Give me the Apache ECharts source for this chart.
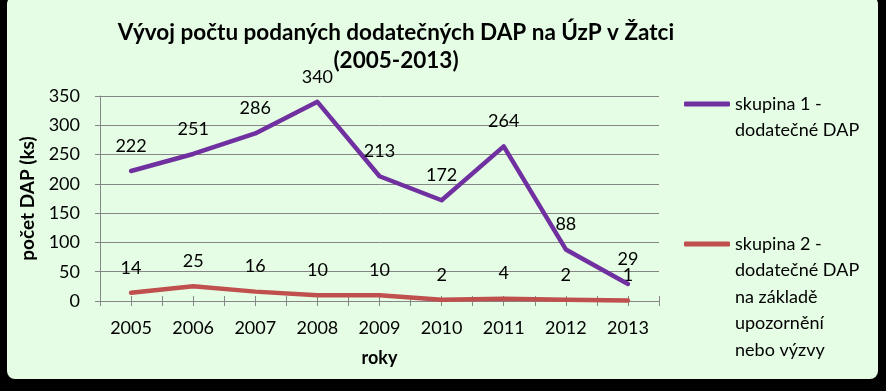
<!DOCTYPE html>
<html>
<head>
<meta charset="utf-8">
<script src="https://cdn.jsdelivr.net/npm/echarts@6/dist/echarts.min.js"></script>
<style>
  html, body { margin: 0; padding: 0; background: #000; }
  #panel { position: absolute; left: 7px; top: -4px; width: 871px; height: 383px; background: #E4FDE4; border-radius: 8px; }
  #chart { position: absolute; left: 0; top: 0; width: 886px; height: 391px; }
</style>
</head>
<body>
<div id="panel"></div>
<div id="chart"></div>
<script>
const titleText = 'Vývoj počtu podaných dodatečných DAP na ÚzP v Žatci\n(2005-2013)';
const years = ['2005', '2006', '2007', '2008', '2009', '2010', '2011', '2012', '2013'];
const group1Name = 'skupina 1 -\ndodatečné DAP';
const group2Name = 'skupina 2 -\ndodatečné DAP\nna základě\nupozornění\nnebo výzvy';
const group1Values = [222, 251, 286, 340, 213, 172, 264, 88, 29];
const group2Values = [14, 25, 16, 10, 10, 2, 4, 2, 1];
const yAxisName = 'počet DAP (ks)';
const xAxisName = 'roky';

// helper slots for tick marks at every half category
const halfSlots = [];
years.forEach(() => { halfSlots.push(''); halfSlots.push(''); });

const FONT = 'Lato';
const GRID_COLOR = '#868686';
const LH = 26.5;

// legend text: pad with blank lines so that the first line sits beside the icon
const lineCount = (s) => s.split('\n').length;
const legendFormatter = (name) => '\n'.repeat(lineCount(name) - 1) + name;
const legendTop = (iconY, name) => iconY - (2 * lineCount(name) - 1) * LH / 2;

const chart = echarts.init(document.getElementById('chart'), null, { renderer: 'canvas' });

const labelCfg = {
  show: true,
  position: 'top',
  distance: 16,
  color: '#000',
  fontFamily: FONT,
  fontSize: 18
};

const helperAxis = (inside) => ({
  type: 'category',
  data: halfSlots,
  position: 'bottom',
  boundaryGap: true,
  axisLine: { show: false },
  axisLabel: { show: false },
  splitLine: { show: false },
  axisTick: { show: true, inside: inside, length: 5, interval: 0, lineStyle: { color: GRID_COLOR, width: 1 } }
});

const legendCfg = (name, iconY) => ({
  data: [name],
  orient: 'vertical',
  left: 684,
  top: legendTop(iconY, name),
  padding: 0,
  icon: 'roundRect',
  itemWidth: 46,
  itemHeight: 5,
  itemGap: 0,
  formatter: legendFormatter,
  textStyle: { fontFamily: FONT, fontSize: 18, color: '#000', lineHeight: LH }
});

chart.setOption({
  backgroundColor: 'transparent',
  animation: false,
  title: {
    text: titleText,
    left: 391,
    top: 14,
    textAlign: 'center',
    textStyle: { fontFamily: FONT, fontSize: 22.5, fontWeight: 'bold', color: '#000', lineHeight: 28 }
  },
  legend: [legendCfg(group1Name, 104), legendCfg(group2Name, 244)],
  grid: { left: 100, right: 227, top: 96, bottom: 90, containLabel: false },
  xAxis: [
    {
      type: 'category',
      data: years,
      boundaryGap: true,
      name: xAxisName,
      nameLocation: 'middle',
      nameGap: 48,
      nameTextStyle: { fontFamily: FONT, fontSize: 18, fontWeight: 'bold', color: '#000' },
      axisLine: { show: true, lineStyle: { color: GRID_COLOR, width: 1 } },
      axisTick: { show: false },
      axisLabel: { margin: 18, fontFamily: FONT, fontSize: 18, color: '#000' },
      splitLine: { show: false }
    },
    helperAxis(true),
    helperAxis(false)
  ],
  yAxis: {
    type: 'value',
    min: 0,
    max: 350,
    interval: 50,
    name: yAxisName,
    nameLocation: 'middle',
    nameGap: 50,
    nameTextStyle: { fontFamily: FONT, fontSize: 19, fontWeight: 'bold', color: '#000' },
    axisLine: { show: true, lineStyle: { color: GRID_COLOR, width: 1 } },
    axisTick: { show: true, length: 5, lineStyle: { color: GRID_COLOR } },
    axisLabel: { margin: 20, fontFamily: FONT, fontSize: 18, color: '#000' },
    splitLine: { show: true, lineStyle: { color: GRID_COLOR, width: 1 } }
  },
  series: [
    {
      name: group1Name,
      type: 'line',
      xAxisIndex: 0,
      data: group1Values,
      symbol: 'circle',
      symbolSize: 0.1,
      itemStyle: { color: '#7030A0' },
      lineStyle: { color: '#7030A0', width: 4.5, cap: 'round', join: 'round' },
      label: labelCfg,
      z: 3
    },
    {
      name: group2Name,
      type: 'line',
      xAxisIndex: 0,
      data: group2Values,
      symbol: 'circle',
      symbolSize: 0.1,
      itemStyle: { color: '#C0504D' },
      lineStyle: { color: '#C0504D', width: 4.5, cap: 'round', join: 'round' },
      label: labelCfg,
      z: 2
    }
  ]
});
</script>
</body>
</html>
